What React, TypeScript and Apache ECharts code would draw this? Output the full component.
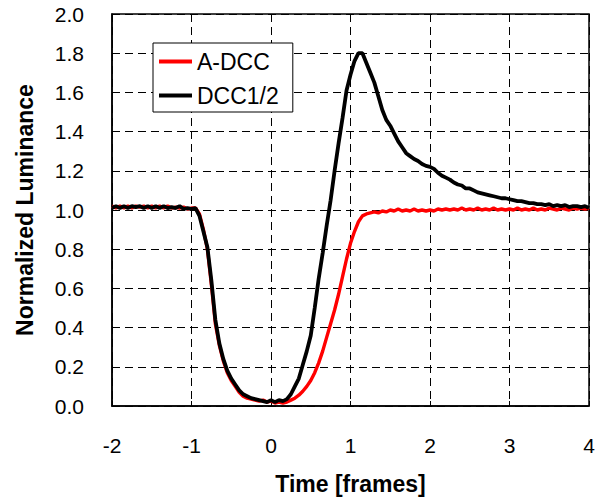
import React, { useEffect, useRef } from "react";
import * as echarts from "echarts";

// Time axis sampled every 0.05 frames from -2 to 4
const TIME_START = -2;
const TIME_STEP = 0.05;

const A_DCC = [
  1.02, 1.01, 1.02, 1.01, 1.02, 1.01, 1.02, 1.015, 1.02, 1.01, 1.02, 1.01, 1.02, 1.01, 1.02, 1.01, 1.015, 1.01, 1.015, 1.005, 1.01, 1.01,
  0.98, 0.9, 0.8, 0.62, 0.42, 0.31, 0.23, 0.17, 0.13, 0.1, 0.07, 0.05, 0.04, 0.035, 0.03, 0.025, 0.03, 0.02,
  0.025, 0.015, 0.02, 0.015, 0.02, 0.03, 0.04, 0.055, 0.075, 0.1, 0.13, 0.17, 0.22, 0.28, 0.35, 0.42, 0.49, 0.57, 0.66, 0.75,
  0.83, 0.89, 0.94, 0.97, 0.98, 0.985, 0.99, 0.985, 0.995, 0.99, 1.0, 0.995, 1.005, 0.995, 1.0, 0.995, 1.005, 0.995, 1.0, 0.995,
  1.0, 0.995, 1.005, 1.0, 1.005, 1.0, 1.005, 1.0, 1.01, 1.0, 1.005, 1.0, 1.01, 1.0, 1.005, 1.0, 1.01, 1.0, 1.005, 1.0,
  1.005, 1.0, 1.01, 1.0, 1.005, 1.0, 1.01, 1.0, 1.005, 1.0, 1.01, 1.005, 1.0, 1.01, 1.005, 1.0, 1.01, 1.005, 1.01, 1.005, 1.01,
];

const DCC_HALF = [
  1.01, 1.02, 1.01, 1.02, 1.01, 1.02, 1.015, 1.02, 1.01, 1.02, 1.01, 1.02, 1.01, 1.02, 1.01, 1.015, 1.01, 1.02, 1.005, 1.01, 1.005, 1.01,
  0.97, 0.89, 0.81, 0.64, 0.44, 0.32, 0.24, 0.18, 0.14, 0.11, 0.08, 0.06, 0.05, 0.04, 0.035, 0.03, 0.025, 0.02,
  0.03, 0.02, 0.03, 0.025, 0.035, 0.06, 0.1, 0.14, 0.21, 0.28, 0.36, 0.5, 0.65, 0.78, 0.92, 1.05, 1.2, 1.34, 1.47, 1.61,
  1.69, 1.76, 1.8, 1.8, 1.75, 1.7, 1.65, 1.58, 1.51, 1.46, 1.43, 1.39, 1.35, 1.32, 1.29, 1.275, 1.26, 1.25, 1.235, 1.225,
  1.22, 1.21, 1.19, 1.175, 1.165, 1.155, 1.14, 1.13, 1.125, 1.11, 1.11, 1.1, 1.09, 1.085, 1.08, 1.075, 1.07, 1.065, 1.06, 1.06,
  1.055, 1.05, 1.045, 1.045, 1.04, 1.035, 1.035, 1.03, 1.03, 1.025, 1.03, 1.02, 1.025, 1.02, 1.025, 1.015, 1.02, 1.02, 1.015, 1.02, 1.01,
];

const SERIES_NAMES = ["A-DCC", "DCC1/2"];
const X_TITLE = "Time [frames]";
const Y_TITLE = "Normalized Luminance";

const toPairs = (vals: number[]) =>
  vals.map((v, i) => [Number((TIME_START + i * TIME_STEP).toFixed(2)), v]);

export default function App() {
  const ref = useRef<HTMLDivElement>(null);
  useEffect(() => {
    if (!ref.current) return;
    const chart = echarts.init(ref.current, null, { renderer: "svg" });
    const font = "Arial, 'Liberation Sans', sans-serif";
    const gridLine = { show: true, lineStyle: { color: "#000", width: 1, type: [8, 5] as any } };
    chart.setOption({
      animation: false,
      backgroundColor: "#fff",
      grid: {
        left: 112,
        right: 15,
        top: 14,
        bottom: 93,
        show: true,
        borderColor: "#000",
        borderWidth: 1.5,
        backgroundColor: "transparent",
      },
      legend: {
        orient: "vertical",
        left: 153,
        top: 43,
        backgroundColor: "#fff",
        borderColor: "#000",
        borderWidth: 1,
        borderRadius: 0,
        padding: [7, 14, 5, 6],
        itemWidth: 33,
        itemHeight: 18,
        itemGap: 11,
        icon: "path://M0,0 L33,0 L33,4 L0,4 Z",
        textStyle: { fontFamily: font, fontSize: 23, color: "#000" },
        data: SERIES_NAMES,
      },
      xAxis: {
        type: "value",
        min: -2,
        max: 4,
        interval: 1,
        name: X_TITLE,
        nameLocation: "middle",
        nameGap: 66,
        nameTextStyle: { fontFamily: font, fontSize: 23, fontWeight: "bold", color: "#000" },
        axisLine: { show: true, onZero: false, lineStyle: { color: "#000", width: 1.5 } },
        axisTick: { show: true, inside: true, length: 5, lineStyle: { color: "#000" } },
        axisLabel: { fontFamily: font, fontSize: 21, color: "#000", margin: 29 },
        splitLine: gridLine,
      },
      yAxis: {
        type: "value",
        min: 0,
        max: 2,
        interval: 0.2,
        name: Y_TITLE,
        nameLocation: "middle",
        nameRotate: 90,
        nameGap: 76,
        nameTextStyle: { fontFamily: font, fontSize: 23, fontWeight: "bold", color: "#000" },
        axisLine: { show: true, onZero: false, lineStyle: { color: "#000", width: 1.5 } },
        axisTick: { show: true, inside: true, length: 5, lineStyle: { color: "#000" } },
        axisLabel: {
          fontFamily: font,
          fontSize: 21,
          color: "#000",
          margin: 28,
          formatter: (v: number) => v.toFixed(1),
        },
        splitLine: gridLine,
      },
      series: [
        {
          name: SERIES_NAMES[0],
          type: "line",
          data: toPairs(A_DCC),
          showSymbol: false,
          symbol: "none",
          lineStyle: { color: "#ff0000", width: 3.4 },
          itemStyle: { color: "#ff0000" },
        },
        {
          name: SERIES_NAMES[1],
          type: "line",
          data: toPairs(DCC_HALF),
          showSymbol: false,
          symbol: "none",
          lineStyle: { color: "#000000", width: 3.8 },
          itemStyle: { color: "#000000" },
        },
      ],
    });
    return () => chart.dispose();
  }, []);
  return (
    <div
      ref={ref}
      style={{ position: "fixed", left: 0, top: 0, width: 604, height: 500, background: "#fff" }}
    />
  );
}
